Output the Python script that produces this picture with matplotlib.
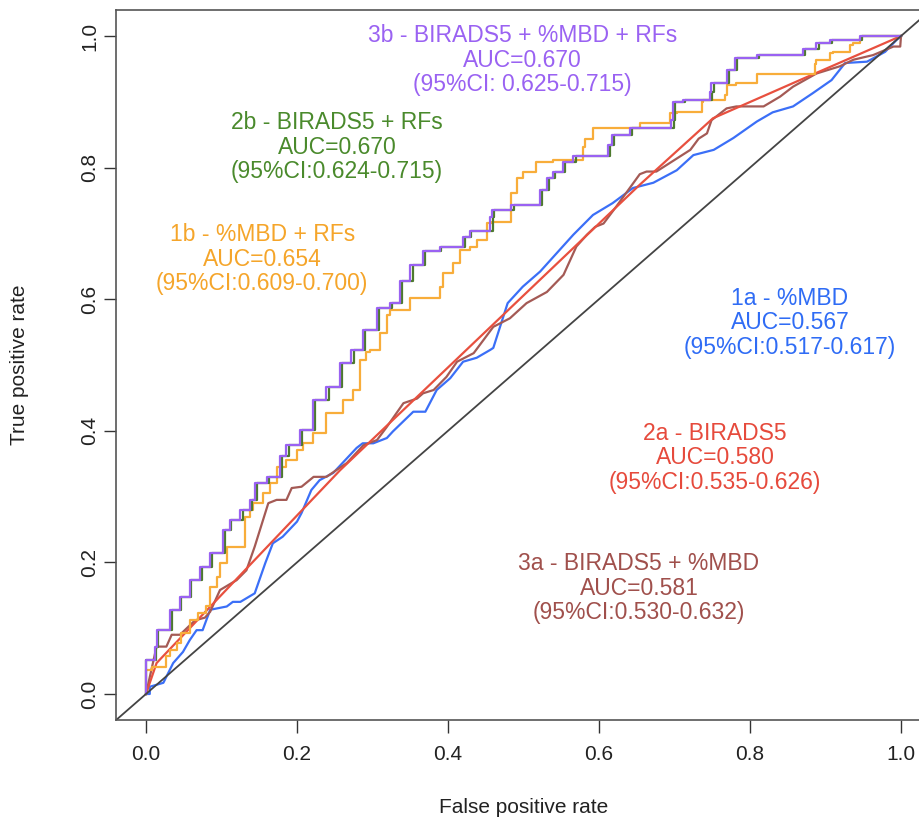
import numpy as np
import matplotlib
matplotlib.use("Agg")
import matplotlib.pyplot as plt

# ── ROC curve vertices (FPR, TPR) ───────────────────────────────────────────
fpr_1a = [0, 0.005, 0.005, 0.023, 0.036, 0.049, 0.058, 0.067, 0.075, 0.085, 0.107, 0.115,
          0.125, 0.144, 0.158, 0.168, 0.181, 0.200, 0.206, 0.219, 0.230, 0.248, 0.279,
          0.287, 0.301, 0.319, 0.327, 0.354, 0.370, 0.385, 0.403, 0.420, 0.438, 0.456,
          0.460, 0.479, 0.499, 0.522, 0.544, 0.566, 0.592, 0.618, 0.645, 0.672, 0.703,
          0.725, 0.752, 0.778, 0.809, 0.830, 0.857, 0.883, 0.908, 0.926, 0.955, 0.979,
          0.994, 1.0]
tpr_1a = [0, 0, 0.011, 0.017, 0.047, 0.064, 0.082, 0.097, 0.097, 0.128, 0.133, 0.140,
          0.140, 0.153, 0.199, 0.229, 0.239, 0.262, 0.275, 0.310, 0.325, 0.336, 0.374,
          0.381, 0.381, 0.389, 0.399, 0.429, 0.429, 0.462, 0.480, 0.505, 0.511, 0.523,
          0.526, 0.594, 0.619, 0.642, 0.670, 0.698, 0.728, 0.746, 0.769, 0.777, 0.796,
          0.819, 0.827, 0.845, 0.870, 0.884, 0.893, 0.913, 0.933, 0.959, 0.961, 0.976,
          0.994, 1.0]

fpr_2a = [0, 0.014, 0.257, 0.654, 0.751, 0.866, 1.0]
tpr_2a = [0, 0.047, 0.340, 0.774, 0.875, 0.933, 1.0]

fpr_3a = [0, 0.014, 0.027, 0.034, 0.045, 0.065, 0.078, 0.085, 0.098, 0.120, 0.133, 0.144,
          0.162, 0.173, 0.186, 0.193, 0.206, 0.222, 0.239, 0.266, 0.288, 0.306, 0.319,
          0.341, 0.359, 0.367, 0.381, 0.398, 0.412, 0.434, 0.460, 0.482, 0.504, 0.531,
          0.553, 0.570, 0.584, 0.595, 0.606, 0.623, 0.654, 0.663, 0.676, 0.721, 0.732,
          0.743, 0.749, 0.769, 0.782, 0.818, 0.840, 0.857, 0.888, 0.919, 0.937, 0.963,
          0.990, 0.999, 1.0]
tpr_3a = [0, 0.072, 0.072, 0.090, 0.090, 0.112, 0.116, 0.125, 0.158, 0.173, 0.188, 0.224,
          0.290, 0.295, 0.295, 0.313, 0.315, 0.330, 0.330, 0.351, 0.378, 0.386, 0.406,
          0.442, 0.449, 0.457, 0.462, 0.482, 0.505, 0.518, 0.558, 0.571, 0.594, 0.611,
          0.637, 0.680, 0.698, 0.710, 0.715, 0.741, 0.790, 0.794, 0.794, 0.827, 0.844,
          0.852, 0.872, 0.890, 0.893, 0.893, 0.908, 0.923, 0.943, 0.954, 0.964, 0.971,
          0.984, 0.984, 1.0]

fpr_1b = [0, 0.008, 0.014, 0.027, 0.032, 0.041, 0.047, 0.058, 0.069, 0.080, 0.085, 0.087,
          0.094, 0.098, 0.107, 0.114, 0.131, 0.138, 0.142, 0.155, 0.164, 0.173, 0.186,
          0.200, 0.208, 0.221, 0.239, 0.261, 0.274, 0.283, 0.292, 0.297, 0.310, 0.319,
          0.323, 0.350, 0.367, 0.389, 0.393, 0.407, 0.416, 0.429, 0.438, 0.451, 0.458,
          0.484, 0.491, 0.499, 0.517, 0.539, 0.579, 0.581, 0.592, 0.604, 0.654, 0.661,
          0.694, 0.703, 0.736, 0.738, 0.767, 0.769, 0.782, 0.809, 0.811, 0.886, 0.888,
          0.906, 0.910, 0.932, 0.936, 0.946, 0.948, 1.0]
tpr_1b = [0, 0.036, 0.041, 0.041, 0.057, 0.067, 0.078, 0.093, 0.112, 0.123, 0.133, 0.163,
          0.163, 0.178, 0.199, 0.224, 0.224, 0.269, 0.280, 0.290, 0.305, 0.321, 0.345,
          0.356, 0.371, 0.381, 0.397, 0.427, 0.447, 0.462, 0.508, 0.520, 0.523, 0.549,
          0.576, 0.584, 0.602, 0.602, 0.619, 0.640, 0.655, 0.675, 0.680, 0.690, 0.716,
          0.718, 0.761, 0.784, 0.794, 0.809, 0.812, 0.832, 0.843, 0.860, 0.860, 0.868,
          0.868, 0.883, 0.885, 0.900, 0.903, 0.910, 0.926, 0.928, 0.943, 0.943, 0.958,
          0.964, 0.974, 0.976, 0.986, 0.989, 0.997, 1.0]

fpr_2b = [0, 0.013, 0.016, 0.034, 0.047, 0.060, 0.074, 0.088, 0.105, 0.113, 0.128, 0.141,
          0.147, 0.163, 0.180, 0.189, 0.207, 0.224, 0.242, 0.260, 0.275, 0.290, 0.309,
          0.326, 0.339, 0.353, 0.370, 0.391, 0.422, 0.431, 0.459, 0.461, 0.487, 0.525,
          0.534, 0.542, 0.555, 0.569, 0.587, 0.615, 0.620, 0.644, 0.661, 0.699, 0.701,
          0.714, 0.750, 0.752, 0.772, 0.783, 0.812, 0.873, 0.891, 0.909, 0.949, 0.951, 1.0]
tpr_2b = [0, 0.052, 0.072, 0.097, 0.128, 0.148, 0.173, 0.193, 0.214, 0.249, 0.264, 0.280,
          0.295, 0.321, 0.330, 0.361, 0.378, 0.401, 0.447, 0.467, 0.503, 0.523, 0.553,
          0.587, 0.594, 0.627, 0.652, 0.673, 0.680, 0.695, 0.703, 0.725, 0.736, 0.743,
          0.766, 0.784, 0.794, 0.809, 0.818, 0.818, 0.834, 0.850, 0.860, 0.860, 0.872,
          0.900, 0.903, 0.915, 0.929, 0.948, 0.966, 0.971, 0.981, 0.989, 0.994, 1.0, 1.0]

fpr_3b = [0, 0.012, 0.014, 0.032, 0.045, 0.058, 0.072, 0.085, 0.102, 0.111, 0.125, 0.138,
          0.144, 0.160, 0.177, 0.186, 0.204, 0.221, 0.239, 0.257, 0.272, 0.287, 0.306,
          0.323, 0.336, 0.350, 0.367, 0.389, 0.420, 0.429, 0.456, 0.458, 0.484, 0.522,
          0.531, 0.539, 0.552, 0.566, 0.584, 0.612, 0.617, 0.641, 0.658, 0.696, 0.698,
          0.711, 0.747, 0.749, 0.769, 0.780, 0.809, 0.870, 0.888, 0.906, 0.946, 0.948, 1.0]
tpr_3b = [0, 0.052, 0.072, 0.097, 0.128, 0.148, 0.173, 0.193, 0.214, 0.249, 0.264, 0.280,
          0.295, 0.321, 0.330, 0.361, 0.378, 0.401, 0.447, 0.467, 0.503, 0.523, 0.553,
          0.587, 0.594, 0.627, 0.652, 0.673, 0.680, 0.695, 0.703, 0.725, 0.736, 0.743,
          0.766, 0.784, 0.794, 0.809, 0.818, 0.818, 0.834, 0.850, 0.860, 0.860, 0.872,
          0.900, 0.903, 0.915, 0.929, 0.948, 0.966, 0.971, 0.981, 0.989, 0.994, 1.0, 1.0]

# annotation text + anchor (x, y of middle line)
labels = [
    ("3b - BIRADS5 + %MBD + RFs\nAUC=0.670\n(95%CI: 0.625-0.715)", 0.499, 0.9635),
    ("2b - BIRADS5 + RFs\nAUC=0.670\n(95%CI:0.624-0.715)", 0.253, 0.831),
    ("1b - %MBD + RFs\nAUC=0.654\n(95%CI:0.609-0.700)", 0.154, 0.661),
    ("1a - %MBD\nAUC=0.567\n(95%CI:0.517-0.617)", 0.853, 0.564),
    ("2a - BIRADS5\nAUC=0.580\n(95%CI:0.535-0.626)", 0.754, 0.359),
    ("3a - BIRADS5 + %MBD\nAUC=0.581\n(95%CI:0.530-0.632)", 0.653, 0.161),
]
label_colors = ["#9a62f2", "#4a8a2c", "#f5a52a", "#2f6cf5", "#e64a3c", "#a0504c"]

C_BLUE, C_RED, C_BROWN = "#3b6ff7", "#e8503f", "#a45a55"
C_ORANGE, C_GREEN, C_PURPLE = "#f8ad3a", "#4d7a2e", "#9a62f2"

plt.rcParams["font.family"] = ["Liberation Sans", "DejaVu Sans"]

fig = plt.figure(figsize=(9.2, 8.17), dpi=100)
ax = fig.add_axes([115.8 / 920, 96.7 / 817, 815.4 / 920, 710.6 / 817])

lw = 1.6
ax.plot(fpr_1a, tpr_1a, color=C_BLUE, lw=lw)
ax.plot(fpr_3a, tpr_3a, color=C_BROWN, lw=lw)
ax.plot(fpr_2a, tpr_2a, color=C_RED, lw=lw)
ax.plot(fpr_1b, tpr_1b, color=C_ORANGE, lw=lw, drawstyle="steps-pre")
ax.plot(fpr_2b, tpr_2b, color=C_GREEN, lw=lw, drawstyle="steps-pre")
ax.plot(fpr_3b, tpr_3b, color=C_PURPLE, lw=lw, drawstyle="steps-pre")
ax.axline((0, 0), (1, 1), color="#444444", lw=1.3)

for (txt, x, y), c in zip(labels, label_colors):
    ax.text(x, y, txt, color=c, ha="center", va="center", fontsize=16.5,
            linespacing=1.08)

ax.set_xlim(-0.04, 1.04)
ax.set_ylim(-0.04, 1.04)
ticks = [0.0, 0.2, 0.4, 0.6, 0.8, 1.0]
ax.set_xticks(ticks)
ax.set_yticks(ticks)
ax.set_xticklabels([f"{t:.1f}" for t in ticks])
ax.set_yticklabels([f"{t:.1f}" for t in ticks], rotation=90, va="center")
ax.tick_params(direction="out", length=9, width=1, colors="#333333",
               labelsize=15, labelcolor="#222222")
ax.tick_params(axis="x", pad=9)
ax.tick_params(axis="y", pad=3)
for s in ax.spines.values():
    s.set_color("#555555")
    s.set_linewidth(1.2)

ax.set_xlabel("False positive rate", fontsize=15, color="#222222", labelpad=24)
fig.text(20 / 920, 1 - 365 / 817, "True positive rate", rotation=90,
         ha="center", va="center", fontsize=15, color="#222222")

fig.savefig("out.png", dpi=100)
